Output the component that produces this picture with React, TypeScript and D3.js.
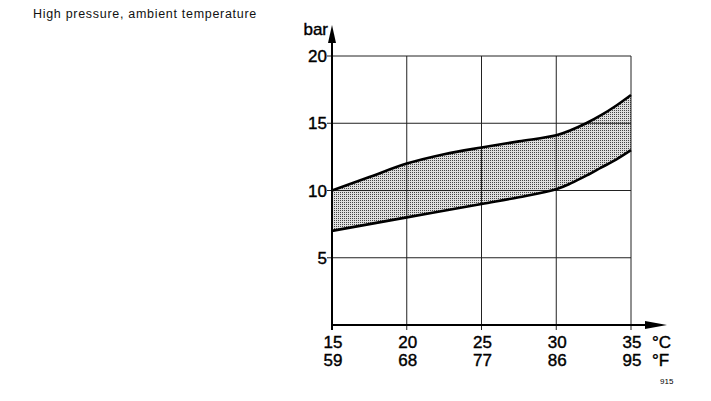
import * as d3 from 'd3';

// temperature (°C) / pressure (bar)
const upperBand: [number, number][] = [
  [15, 10], [17.5, 11], [20, 12], [22.5, 12.7], [25, 13.2], [27.5, 13.65],
  [30, 14.1], [31, 14.5], [32, 15], [33, 15.6], [34, 16.3], [35, 17.1],
];
const lowerBand: [number, number][] = [
  [15, 7], [20, 8], [25, 9], [27.5, 9.5], [30, 10.1], [31, 10.55], [32, 11.1],
  [33, 11.7], [34, 12.3], [35, 13],
];
const celsiusTicks = [15, 20, 25, 30, 35];
const fahrenheitLabels = ['59', '68', '77', '86', '95'];
const barTicks = [5, 10, 15, 20];

const W = 711;
const H = 401;
const font = '"Liberation Sans", Arial, sans-serif';

export default function App() {
  const x = d3.scaleLinear().domain([15, 35]).range([332, 631]);
  const y = d3.scaleLinear().domain([0, 20]).range([325, 56]);

  const curve = d3
    .line<[number, number]>()
    .x((d) => x(d[0]))
    .y((d) => y(d[1]))
    .curve(d3.curveCatmullRom.alpha(0.5));

  // band polygon: upper forward, lower reversed
  const upperPath = curve(upperBand) ?? '';
  const lowerPath = curve(lowerBand) ?? '';
  const lowerRev = curve([...lowerBand].reverse()) ?? '';
  const bandPath = upperPath + 'L' + lowerRev.slice(1) + 'Z';

  const x0 = x(15);
  const yBase = y(0);
  const lbl = { fontSize: 17, fill: '#000', stroke: '#000', strokeWidth: 0.4 };

  return (
    <svg width={W} height={H} style={{ position: 'absolute', left: 0, top: 0 }} fontFamily={font}>
      <defs>
        <pattern id='dots' width='2' height='2' patternUnits='userSpaceOnUse'>
          <rect width='2' height='2' fill='#dedede' />
          <rect width='1' height='1' fill='#444' />
        </pattern>
      </defs>
      <rect width={W} height={H} fill='#fff' />

      <text x={33} y={18} fontSize={12.5} letterSpacing={0.7} fill='#111'>High pressure, ambient temperature</text>

      {/* band */}
      <path d={bandPath} fill='url(#dots)' />

      {/* grid */}
      {barTicks.map((b) => (
        <line key={'h' + b} x1={x0 - 5} x2={x(35)} y1={y(b)} y2={y(b)} stroke='#222' strokeWidth={1} />
      ))}
      {celsiusTicks.slice(1).map((c) => (
        <line key={'v' + c} x1={x(c)} x2={x(c)} y1={y(20)} y2={yBase + 5} stroke='#222' strokeWidth={1} />
      ))}

      {/* curves */}
      <path d={upperPath} fill='none' stroke='#000' strokeWidth={2.6} />
      <path d={lowerPath} fill='none' stroke='#000' strokeWidth={2.6} />

      {/* axes */}
      <line x1={x0} x2={x0} y1={yBase + 5} y2={38} stroke='#000' strokeWidth={2} />
      <path d={`M${x0},25 L${x0 - 4},43 L${x0 + 4},43 Z`} fill='#000' />
      <line x1={x0} x2={650} y1={yBase} y2={yBase} stroke='#000' strokeWidth={2} />
      <path d={`M667,${yBase} L645,${yBase - 4} L645,${yBase + 4} Z`} fill='#000' />

      {/* y labels */}
      <text x={328} y={35} textAnchor='end' {...lbl}>bar</text>
      {barTicks.map((b) => (
        <text key={'yl' + b} x={327} y={y(b) + 6} textAnchor='end' {...lbl}>
          {b}
        </text>
      ))}

      {/* x labels */}
      {celsiusTicks.map((c, i) => (
        <g key={'xl' + c}>
          <text x={x(c) + 1} y={348} textAnchor='middle' {...lbl}>
            {c}
          </text>
          <text x={x(c) + 1} y={366} textAnchor='middle' {...lbl}>
            {fahrenheitLabels[i]}
          </text>
        </g>
      ))}
      <text x={652} y={348} {...lbl}>°C</text>
      <text x={652} y={366} {...lbl}>°F</text>

      <text x={660} y={384} fontSize={8} fill='#000'>915</text>
    </svg>
  );
}
